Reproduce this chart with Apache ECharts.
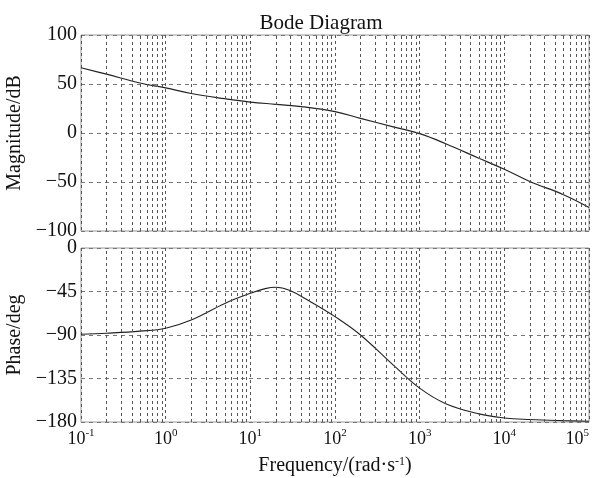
<!DOCTYPE html>
<html>
<head>
<meta charset="utf-8">
<script src="https://cdn.jsdelivr.net/npm/echarts@6/dist/echarts.min.js"></script>
<style>html,body{margin:0;padding:0;background:#fff}#c{width:598px;height:478px}</style>
</head>
<body>
<div id="c"></div>
<script>
var freq = [0.1, 0.2, 0.5, 1, 2, 5, 10, 20, 40, 100, 200, 500, 1000, 2000, 5000, 10000, 20000, 50000, 100000];
var magnitude = [66.6, 60, 51, 46, 40.3, 35, 31.6, 29.3, 27, 21.8, 15, 6, -0.7, -10.7, -25.7, -37, -49.5, -63, -76];
var phaseFreq = [0.1, 0.2, 0.5, 1, 2, 5, 10, 15, 20, 29, 50, 100, 200, 500, 1000, 2000, 5000, 10000, 20000, 50000, 100000];
var phase = [-89.3, -88.2, -86, -83, -74.5, -57.3, -46.9, -42, -40.6, -43.8, -55, -71, -90, -122, -145, -160.8, -171.6, -175.8, -177.4, -178.6, -179.2];
var magTicks = [-100, -50, 0, 50, 100];
var phaseTicks = [-180, -135, -90, -45, 0];
var decades = [-1, 0, 1, 2, 3, 4, 5];

var minorLines = [];
for (var d = -1; d < 5; d++) {
  for (var k = 2; k <= 9; k++) minorLines.push({xAxis: k * Math.pow(10, d)});
}

var font = 'Liberation Serif';
var gridColor = '#555';
function pair(a, b) { var o = []; for (var i = 0; i < a.length; i++) o.push([a[i], b[i]]); return o; }

var chart = echarts.init(document.getElementById('c'));
var xCommon = {
  type: 'log', logBase: 10, min: 0.1, max: 100000,
  axisLine: {show: false}, axisTick: {show: false},
  splitLine: {show: true, lineStyle: {color: gridColor, type: [3, 3], width: 1}}
};
function yLabel(v) { return String(v).replace('-', '\u2212'); }
chart.setOption({
  animation: false,
  title: {text: 'Bode Diagram', left: 316, top: 8, textAlign: 'center',
    textStyle: {fontFamily: font, fontSize: 21, fontWeight: 'normal', color: '#111'}},
  grid: [
    {left: 81, top: 35, width: 508, height: 196, show: true, borderColor: '#999', borderWidth: 1,
      containLabel: false, outerBoundsMode: 'none'},
    {left: 81, top: 248, width: 508, height: 174, show: true, borderColor: '#999', borderWidth: 1,
      containLabel: false, outerBoundsMode: 'none'}
  ],
  xAxis: [
    Object.assign({gridIndex: 0, axisLabel: {show: false}}, xCommon),
    Object.assign({gridIndex: 1, name: 'Frequency/(rad·s{s|-1})', nameLocation: 'middle', nameGap: 34,
      nameTextStyle: {fontFamily: font, fontSize: 20, color: '#111',
        rich: {s: {fontFamily: font, fontSize: 12, lineHeight: 12, verticalAlign: 'top', color: '#111'}}},
      axisLabel: {show: true, margin: 6, alignMaxLabel: 'right',
        formatter: function (v) { return '{b|10}{s|' + Math.round(Math.log10(v)) + '}'; },
        rich: {
          b: {fontFamily: font, fontSize: 18, lineHeight: 20, verticalAlign: 'bottom', color: '#111'},
          s: {fontFamily: font, fontSize: 11, lineHeight: 11, verticalAlign: 'top', color: '#111'}
        }}}, xCommon)
  ],
  yAxis: [
    {gridIndex: 0, type: 'value', min: -100, max: 100, interval: 50,
      name: 'Magnitude/dB', nameLocation: 'middle', nameGap: 48,
      nameTextStyle: {fontFamily: font, fontSize: 20, color: '#111'},
      axisLine: {show: false}, axisTick: {show: false},
      axisLabel: {fontFamily: font, fontSize: 20, color: '#111', margin: 4, formatter: yLabel},
      splitLine: {lineStyle: {color: '#777', type: [4, 4], width: 1}}},
    {gridIndex: 1, type: 'value', min: -180, max: 0, interval: 45,
      name: 'Phase/deg', nameLocation: 'middle', nameGap: 48,
      nameTextStyle: {fontFamily: font, fontSize: 20, color: '#111'},
      axisLine: {show: false}, axisTick: {show: false},
      axisLabel: {fontFamily: font, fontSize: 20, color: '#111', margin: 4, formatter: yLabel},
      splitLine: {lineStyle: {color: '#777', type: [4, 4], width: 1}}}
  ],
  series: [
    {type: 'line', xAxisIndex: 0, yAxisIndex: 0, data: pair(freq, magnitude), smooth: 0.4,
      showSymbol: false, lineStyle: {color: '#222', width: 1.2},
      markLine: {silent: true, symbol: 'none', label: {show: false},
        lineStyle: {color: gridColor, type: [3, 3], width: 1}, data: minorLines}},
    {type: 'line', xAxisIndex: 1, yAxisIndex: 1, data: pair(phaseFreq, phase), smooth: 0.4,
      showSymbol: false, lineStyle: {color: '#222', width: 1.1},
      markLine: {silent: true, symbol: 'none', label: {show: false},
        lineStyle: {color: gridColor, type: [3, 3], width: 1}, data: minorLines}}
  ]
});
</script>
</body>
</html>
